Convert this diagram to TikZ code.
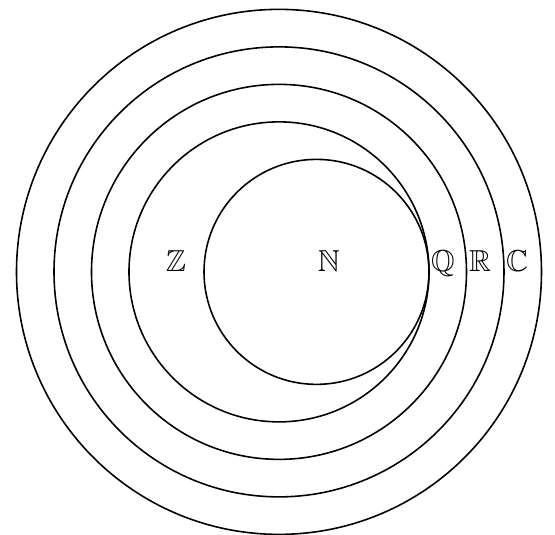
\documentclass[tikz,border=0pt]{standalone}
\usepackage{amsmath,amssymb}
\usepackage{tikz}
\usetikzlibrary{positioning}

\begin{document}
\begin{tikzpicture}[
    ring/.style={draw, line width=1.2pt},
    setlabel/.style={anchor=base, inner sep=0pt, font=\fontsize{23}{27}\selectfont},
]
\useasboundingbox (-7.44,-7.01) rectangle (7.36,7.25);
% number sets, nested
\draw[ring] (1,0) circle (3);
\foreach \r in {4,5,6,7}
    \draw[ring] (0,0) circle (\r);
\node[setlabel] (nat) at (1.33,0) {$\mathbb{N}$};
\node[setlabel] (int) at (-2.75,0) {$\mathbb{Z}$};
\node[setlabel] (rat) at (4.37,0) {$\mathbb{Q}$};
\node[setlabel] (real) at (5.36,0) {$\mathbb{R}$};
\node[setlabel] (cplx) at (6.35,0) {$\mathbb{C}$};
\end{tikzpicture}
\end{document}
